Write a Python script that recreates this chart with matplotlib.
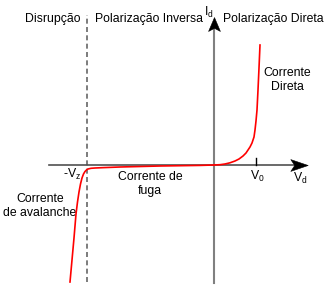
import matplotlib
matplotlib.use("Agg")
import matplotlib.pyplot as plt
from matplotlib.path import Path

plt.rcParams['font.family'] = ['Liberation Sans', 'DejaVu Sans']

# diode I-V curve (arbitrary units, origin at axes crossing)
v_rev = [-144, -143, -142, -141, -140, -139, -138, -136.5, -135, -133.5, -132, -130.5,
         -129, -127.5, -126, -123, -119, -110, -94, -74, -54, -34, -14, 0]
i_rev = [-117, -106, -95, -84, -73, -61, -49, -37, -27, -19, -13, -9,
         -6.5, -5, -4, -3.3, -3, -2.6, -2, -1.5, -1, -0.7, -0.4, 0]
v_fwd = [0, 6, 11, 16, 21, 25, 29, 32, 34, 36, 38, 40, 41, 42, 43, 44, 45, 46]
i_fwd = [0, 0.3, 1, 2.2, 4, 6, 9, 12, 15, 18, 22, 28, 35, 44, 55, 75, 97, 120]

v_z = -127
v_0 = 42

fig = plt.figure(figsize=(3.3, 2.94), dpi=100)
ax = fig.add_axes([0, 0, 1, 1])
ax.set_xlim(-214, 116)
ax.set_ylim(-129, 165)
ax.axis('off')

fs = 8.8

# arrowhead shapes
head_right = Path([(1, 0), (-1, 0.68), (-0.55, 0), (-1, -0.68), (1, 0)],
                  [Path.MOVETO, Path.LINETO, Path.LINETO, Path.LINETO, Path.CLOSEPOLY])
head_up = Path([(0, 1), (0.85, -1), (0, -0.55), (-0.85, -1), (0, 1)],
               [Path.MOVETO, Path.LINETO, Path.LINETO, Path.LINETO, Path.CLOSEPOLY])

# axes lines
ax.plot([-165, 84], [0, 0], color='#505050', lw=1.2, zorder=2)
ax.plot([0, 0], [-118, 140], color='#808080', lw=1.5, zorder=2)
ax.plot([85], [0], marker=head_right, ms=12.5, color='black', mew=0.4, zorder=3)
ax.plot([0], [141.5], marker=head_up, ms=10, color='black', mew=0.4, zorder=3)

# breakdown divider
ax.plot([v_z, v_z], [-117, 150], color='#666666', lw=1.2, ls=(0, (3, 2)), zorder=1)

# V0 tick
ax.plot([v_0, v_0], [0, 7], color='black', lw=1, zorder=2)

# curve
ax.plot(v_rev, i_rev, color='red', lw=1.2, zorder=4)
ax.plot(v_fwd, i_fwd, color='red', lw=1.2, zorder=4)

# labels
ax.text(-161, 146, 'Disrupção', fontsize=fs, ha='center', va='center')
ax.text(-65, 146, 'Polarização Inversa', fontsize=fs, ha='center', va='center')
ax.text(59, 146, 'Polarização Direta', fontsize=fs, ha='center', va='center')
ax.text(-5, 153, r'I$_\mathregular{d}$', fontsize=fs, ha='center', va='center')
ax.text(73, 85, 'Corrente\nDireta', fontsize=fs, ha='center', va='center', linespacing=1.2)
ax.text(-64, -19, 'Corrente de\nfuga', fontsize=fs, ha='center', va='center', linespacing=1.25)
ax.text(-174, -41, 'Corrente\nde avalanche', fontsize=fs, ha='center', va='center', linespacing=1.25)
ax.text(-142, -9, r'-V$_\mathregular{z}$', fontsize=fs, ha='center', va='center')
ax.text(43, -11, r'V$_\mathregular{0}$', fontsize=fs, ha='center', va='center')
ax.text(86, -13, r'V$_\mathregular{d}$', fontsize=fs, ha='center', va='center')

fig.savefig('out.png', dpi=100)
